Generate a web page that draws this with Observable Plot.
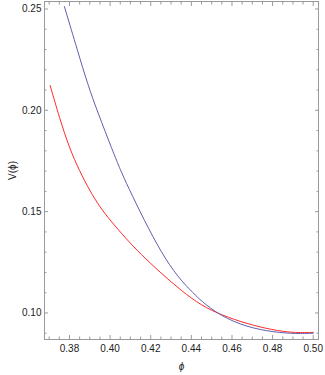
<!DOCTYPE html>
<html><head><meta charset="utf-8">
<script src="https://cdn.jsdelivr.net/npm/d3@7"></script>
<script src="https://cdn.jsdelivr.net/npm/@observablehq/plot@0.6"></script>
<style>
body{margin:0;background:#fff}
svg{font-family:"Liberation Sans",Arial,sans-serif}
g[aria-label="x-axis label"] text{font-style:italic}
</style>
</head><body><div id="chart"></div>
<script>
const blueX = [0.3775, 0.3841, 0.3890, 0.3939, 0.4013, 0.4051, 0.4087, 0.4169, 0.4251, 0.4333, 0.4415, 0.4444, 0.4543, 0.4674, 0.4805, 0.4920, 0.5000];
const blueY = [0.2512, 0.2290, 0.2127, 0.1990, 0.1799, 0.1705, 0.1625, 0.1455, 0.1300, 0.1176, 0.1093, 0.1063, 0.0985, 0.0930, 0.0905, 0.0897, 0.0900];
const redX = [0.3705, 0.3750, 0.3800, 0.3850, 0.3900, 0.3950, 0.4000, 0.4075, 0.4150, 0.4250, 0.4350, 0.4450, 0.4550, 0.4675, 0.4800, 0.4900, 0.5000];
const redY = [0.2122, 0.1965, 0.1812, 0.1700, 0.1603, 0.1522, 0.1458, 0.1370, 0.1291, 0.1197, 0.1110, 0.1036, 0.0989, 0.0946, 0.0916, 0.0902, 0.0904];
const xMajor = [0.38, 0.40, 0.42, 0.44, 0.46, 0.48, 0.50];
const xMinor = [0.370, 0.375, 0.385, 0.390, 0.395, 0.405, 0.410, 0.415, 0.425, 0.430, 0.435, 0.445, 0.450, 0.455, 0.465, 0.470, 0.475, 0.485, 0.490, 0.495];
const yMajor = [0.10, 0.15, 0.20, 0.25];
const yMinor = [0.09, 0.11, 0.12, 0.13, 0.14, 0.16, 0.17, 0.18, 0.19, 0.21, 0.22, 0.23, 0.24];

const blue = blueX.map((x, i) => ({x, y: blueY[i]}));
const red = redX.map((x, i) => ({x, y: redY[i]}));
const fmt = d3.format(".2f");
const grey = "#9a9a9a";
const none = () => "";

const tickMarks = [];
for (const anchor of ["bottom", "top"]) {
  tickMarks.push(Plot.axisX(xMajor, {anchor, tickSize: -4, tickFormat: none, label: null, stroke: grey}));
  tickMarks.push(Plot.axisX(xMinor, {anchor, tickSize: -2.5, tickFormat: none, label: null, stroke: grey}));
}
for (const anchor of ["left", "right"]) {
  tickMarks.push(Plot.axisY(yMajor, {anchor, tickSize: -4, tickFormat: none, label: null, stroke: grey}));
  tickMarks.push(Plot.axisY(yMinor, {anchor, tickSize: -2.5, tickFormat: none, label: null, stroke: grey}));
}

const chart = Plot.plot({
  width: 325,
  height: 375,
  marginLeft: 44,
  marginRight: 7,
  marginTop: 1,
  marginBottom: 36,
  style: {fontSize: "10px", fontFamily: "Liberation Sans, Arial, sans-serif"},
  x: {domain: [0.3677, 0.5026]},
  y: {domain: [0.0869, 0.2537]},
  marks: [
    Plot.frame({stroke: grey}),
    ...tickMarks,
    Plot.axisX(xMajor, {anchor: "bottom", tickSize: 0, tickPadding: 5, tickFormat: fmt, label: "ϕ", labelAnchor: "center", labelArrow: "none", labelOffset: 30, fill: "#222"}),
    Plot.axisY(yMajor, {anchor: "left", tickSize: 0, tickPadding: 3, tickFormat: fmt, label: "V(ϕ)", labelAnchor: "center", labelArrow: "none", labelOffset: 36, fill: "#222"}),
    Plot.line(red, {x: "x", y: "y", stroke: "#ff2a2a", strokeWidth: 1, curve: "basis"}),
    Plot.line(blue, {x: "x", y: "y", stroke: "#5f5fb0", strokeWidth: 1, curve: "basis"})
  ]
});
document.getElementById("chart").appendChild(chart);
</script>
</body></html>
